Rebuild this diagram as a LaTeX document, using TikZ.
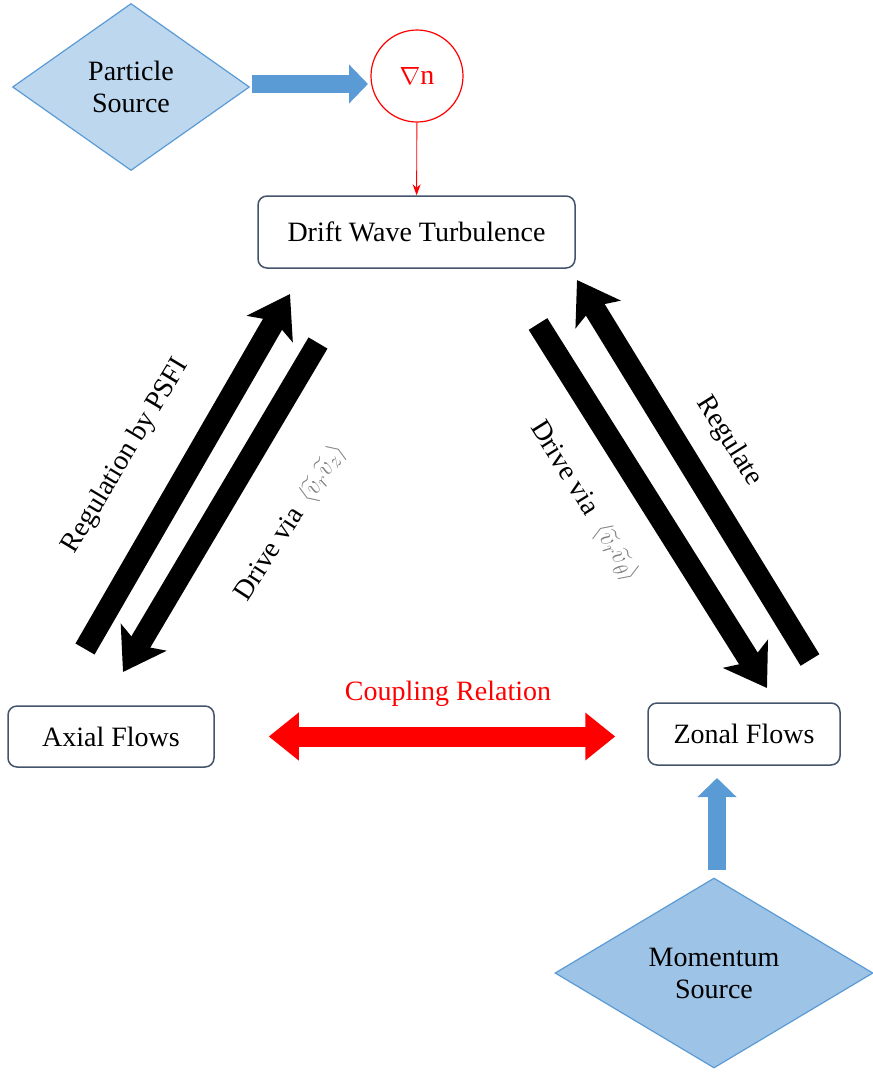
\documentclass[tikz,border=0pt]{standalone}
\usepackage{amsmath}
\usepackage{fontspec}
\setmainfont{Liberation Serif}
\usetikzlibrary{positioning,calc,arrows.meta,shapes.geometric}

\definecolor{srclight}{HTML}{BDD7EE}
\definecolor{srcmid}{HTML}{9DC3E6}
\definecolor{srcedge}{HTML}{5B9BD5}
\definecolor{blockblue}{HTML}{5B9BD5}
\definecolor{blockedge}{HTML}{41719C}
\definecolor{boxedge}{HTML}{44546A}

\tikzset{
	font=\fontsize{28}{32}\selectfont,
	flowbox/.style={draw=boxedge, line width=1.5pt, rounded corners=9pt, fill=white, inner sep=0pt},
	srcdiam/.style={diamond, draw=srcedge, line width=1.2pt, align=center, inner sep=0pt},
	bigblack/.style={line width=22pt, -{Stealth[length=40pt,width=52pt,inset=9pt]}},
	bluearr/.style={line width=18pt, draw=blockblue, -{Triangle[length=19pt,width=38pt,fill=blockblue]}},
	redarr/.style={line width=20pt, draw=red, {Triangle[length=30pt,width=46pt]}-{Triangle[length=30pt,width=46pt]}},
	vel/.style={text=gray, font=\fontsize{22}{24}\selectfont}
}

\begin{document}
\begin{tikzpicture}[x=1pt, y=-1pt]
	\useasboundingbox (0, 0) rectangle (873, 1072);

	% sources and gradient
	\node[srcdiam, fill=srclight, minimum width=237, minimum height=167] (psrc) at (131, 87) {Particle\\Source};
	\node[draw=red, line width=1.2pt, circle, minimum size=92, text=red, inner sep=0pt] (grad) at (417, 76) {$\nabla$n};
	\node[srcdiam, fill=srcmid, minimum width=318, minimum height=190] (msrc) at (714, 973) {Momentum\\Source};

	% boxes
	\node[flowbox, minimum width=317, minimum height=72] (dwt) at (416.5, 232) {Drift Wave Turbulence};
	\node[flowbox, minimum width=206, minimum height=61] (axial) at (111, 736.5) {Axial Flows};
	\node[flowbox, minimum width=192, minimum height=62] (zonal) at (744, 734) {Zonal Flows};

	% ends of the block arrows
	\coordinate (ps-out) at (252, 84);
	\coordinate (grad-in) at (368, 84);
	\coordinate (ms-out) at (717, 870);
	\coordinate (zf-in) at (717, 778);
	\coordinate (ax-up) at (85, 649);
	\coordinate (dw-l1) at (290, 294);
	\coordinate (dw-l2) at (318, 343);
	\coordinate (ax-down) at (123, 672);
	\coordinate (zf-up) at (810, 660);
	\coordinate (dw-r1) at (577, 280);
	\coordinate (dw-r2) at (538, 324);
	\coordinate (zf-down) at (767, 688);

	\draw[bluearr] (ps-out) -- (grad-in);
	\draw[bluearr] (ms-out) -- (zf-in);
	\draw[red, line width=0.9pt, -{Stealth[length=11pt,width=8pt]}] (grad) -- (dwt);

	\draw[bigblack] (ax-up) -- (dw-l1);
	\draw[bigblack] (dw-l2) -- (ax-down);
	\draw[bigblack] (zf-up) -- (dw-r1);
	\draw[bigblack] (dw-r2) -- (zf-down);

	\draw[redarr, shorten <=54pt, shorten >=32pt] (axial.east) -- (axial.east -| zonal.west);
	\node[text=red] (coupling) at (448, 694) {Coupling Relation};

	% labels on the black arrows
	\node[rotate=59] (regpsfi) at (126, 456) {Regulation by PSFI};
	\node[rotate=57] (drivel) at (291, 523) {Drive via \,{\color{gray}$\langle\widetilde{v}_r\widetilde{v}_z\rangle$}};
	\node[rotate=-58] (driver) at (584, 502) {Drive via \;{\color{gray}$\langle\widetilde{v}_r\widetilde{v}_\theta\rangle$}};
	\node[rotate=-58] (regr) at (729, 441) {Regulate};
\end{tikzpicture}
\end{document}
